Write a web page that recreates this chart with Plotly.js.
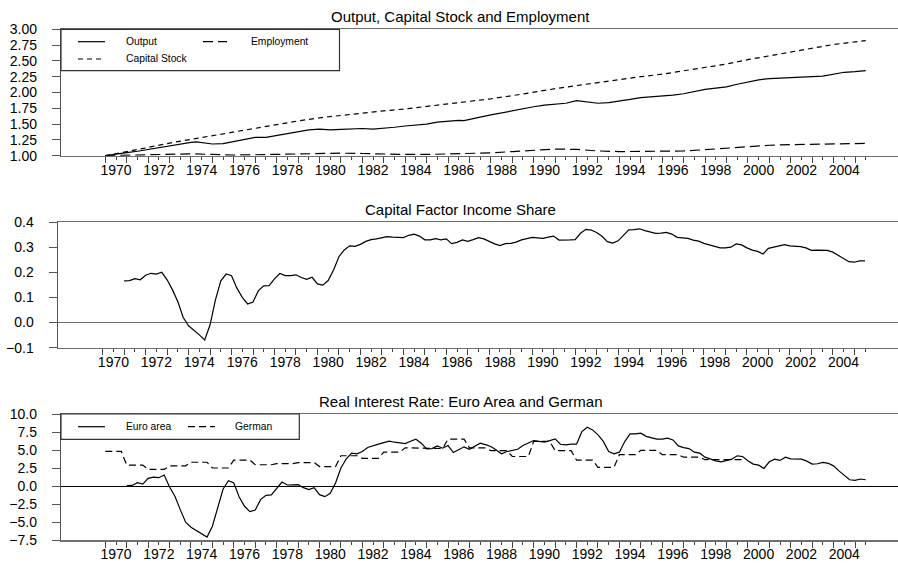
<!DOCTYPE html>
<html>
<head>
<meta charset="utf-8">
<script src="https://cdn.plot.ly/plotly-3.0.1.min.js"></script>
<style>html,body{margin:0;padding:0;background:#fff;}#chart{width:898px;height:566px;}</style>
</head>
<body>
<div id="chart"></div>
<script>
// ---------------- Data ----------------
// Panel 1: indices (1970Q1 = 1)
const outputYears = [1970,1970.5,1971,1971.5,1972,1972.5,1973,1973.5,1974,1974.25,1974.75,1975,1975.5,1976,1976.5,1977,1977.5,1978,1978.5,1979,1979.5,1980,1980.5,1981,1981.5,1982,1982.5,1983,1983.5,1984,1984.5,1985,1985.5,1986,1986.5,1986.75,1987,1987.5,1988,1988.5,1989,1989.5,1990,1990.5,1991,1991.5,1992,1992.5,1993,1993.5,1994,1994.5,1995,1995.5,1996,1996.5,1997,1997.5,1998,1998.5,1999,1999.5,2000,2000.5,2001,2001.5,2002,2002.5,2003,2003.5,2004,2004.5,2005,2005.5];
const outputIdx = [1.00,1.03,1.05,1.07,1.10,1.13,1.16,1.19,1.21,1.22,1.19,1.185,1.19,1.22,1.26,1.29,1.29,1.32,1.35,1.38,1.41,1.42,1.41,1.415,1.42,1.43,1.42,1.43,1.45,1.47,1.48,1.50,1.53,1.55,1.56,1.555,1.57,1.61,1.645,1.68,1.71,1.74,1.775,1.80,1.82,1.83,1.87,1.85,1.83,1.84,1.86,1.89,1.92,1.93,1.94,1.96,1.98,2.02,2.05,2.07,2.09,2.13,2.17,2.20,2.22,2.225,2.23,2.24,2.25,2.26,2.29,2.32,2.33,2.345];
const capitalYears = [1970,1971,1972,1973,1974,1975,1976,1977,1978,1979,1980,1981,1982,1983,1984,1985,1986,1987,1988,1989,1990,1991,1992,1993,1994,1995,1996,1997,1998,1999,2000,2001,2002,2003,2004,2005,2005.5];
const capitalIdx = [1.00,1.06,1.13,1.20,1.26,1.32,1.38,1.44,1.50,1.55,1.60,1.64,1.68,1.71,1.74,1.78,1.81,1.85,1.90,1.95,2.01,2.06,2.11,2.16,2.20,2.25,2.29,2.34,2.39,2.45,2.52,2.58,2.64,2.70,2.76,2.80,2.82];
const employmentYears = [1970,1971,1972,1973,1974,1975,1976,1977,1978,1979,1980,1981,1982,1983,1984,1985,1986,1987,1988,1989,1990,1991,1992,1993,1994,1995,1996,1997,1998,1999,2000,2001,2002,2003,2004,2005,2005.5];
const employmentIdx = [1.00,1.01,1.02,1.03,1.03,1.02,1.01,1.015,1.02,1.03,1.04,1.04,1.035,1.025,1.02,1.02,1.025,1.035,1.045,1.065,1.09,1.105,1.10,1.075,1.065,1.065,1.07,1.075,1.095,1.12,1.145,1.165,1.175,1.18,1.185,1.19,1.195];

// Panel 2: capital factor income share, quarterly from 1971Q1
const shareStart = 1971;
const incomeShare = [0.166,0.167,0.175,0.170,0.188,0.196,0.193,0.200,0.170,0.130,0.083,0.020,-0.013,-0.030,-0.049,-0.069,-0.009,0.090,0.166,0.193,0.186,0.137,0.100,0.074,0.082,0.127,0.146,0.147,0.174,0.195,0.187,0.187,0.190,0.179,0.172,0.180,0.154,0.149,0.167,0.209,0.262,0.289,0.305,0.303,0.311,0.323,0.330,0.333,0.338,0.342,0.340,0.339,0.338,0.347,0.352,0.344,0.329,0.329,0.334,0.329,0.333,0.314,0.319,0.329,0.323,0.330,0.338,0.333,0.322,0.313,0.306,0.314,0.315,0.320,0.329,0.333,0.339,0.337,0.335,0.340,0.344,0.328,0.327,0.329,0.330,0.355,0.371,0.368,0.358,0.343,0.322,0.316,0.325,0.348,0.369,0.370,0.373,0.366,0.360,0.355,0.356,0.359,0.352,0.339,0.337,0.335,0.328,0.324,0.315,0.308,0.302,0.297,0.297,0.300,0.313,0.309,0.297,0.288,0.283,0.273,0.295,0.300,0.302,0.310,0.305,0.304,0.302,0.297,0.287,0.288,0.289,0.287,0.280,0.268,0.256,0.242,0.240,0.245,0.245];

// Panel 3: real interest rates
const euroStart = 1971;
const euroRate = [0.04,0.08,0.46,0.27,1.06,1.24,1.15,1.52,-0.14,-1.43,-3.28,-5.03,-5.72,-6.18,-6.60,-7.10,-5.58,-2.82,-0.42,0.73,0.42,-1.52,-2.82,-3.55,-3.33,-1.89,-1.29,-1.24,-0.28,0.55,0.14,0.18,0.18,-0.23,-0.51,-0.23,-1.20,-1.48,-1.02,0.41,2.49,3.78,4.56,4.47,4.79,5.34,5.62,5.81,6.03,6.22,6.08,5.98,5.90,6.22,6.50,5.95,5.16,5.20,5.57,5.25,5.62,4.65,5.02,5.44,5.11,5.50,5.95,5.75,5.48,5.00,4.47,4.79,4.90,5.10,5.62,5.95,6.31,6.20,6.08,6.30,6.54,5.80,5.71,5.81,5.81,7.55,8.15,7.79,7.10,6.20,4.79,4.47,4.70,6.17,7.23,7.25,7.33,6.90,6.70,6.50,6.50,6.64,6.40,5.57,5.34,5.20,4.70,4.56,4.01,3.73,3.50,3.36,3.55,3.73,4.19,4.10,3.50,3.04,2.90,2.44,3.36,3.73,3.55,4.01,3.78,3.75,3.73,3.45,3.04,3.09,3.27,3.15,2.80,2.10,1.50,0.87,0.78,0.97,0.87];
const germanYears = [1970,1971,1972,1973,1974,1975,1976,1977,1978,1979,1980,1981,1982,1983,1984,1985,1986,1987,1988,1989,1990,1991,1992,1993,1994,1995,1996,1997,1998,1999];
const germanRate = [4.8,2.9,2.3,2.8,3.3,2.5,3.6,2.95,3.1,3.25,2.7,4.2,3.85,4.7,5.3,5.2,6.5,5.3,4.9,4.1,6.2,4.9,3.6,2.6,4.35,4.95,4.35,4.0,3.65,3.65];

// Axis ticks: tall ticks at year starts, short ticks at mid-year, labels centred on even years
const yearStarts = [];
for (let y = 1970; y <= 2005; y++) yearStarts.push(y);
const midYears = yearStarts.map(y => y + 0.5);
const yearLabels = yearStarts.map(y => (y % 2 === 0 && y <= 2004) ? String(y) : '');

const titles = ['Output, Capital Stock and Employment', 'Capital Factor Income Share', 'Real Interest Rate: Euro Area and German'];

// ---------------- Helpers ----------------
const W = 898, H = 566;
const px = x => x / W;
const py = y => 1 - y / H;
function quarterly(start, n) { const a = []; for (let i = 0; i < n; i++) a.push(start + i * 0.25); return a; }
// annual German values held constant over the four quarters of each year
const gx = [], gy = [];
germanYears.forEach((yr, i) => { gx.push(yr, yr + 0.75); gy.push(germanRate[i], germanRate[i]); });

const FONT = 'Liberation Sans, Arial, Helvetica, sans-serif';
const lineStyle = {color: '#000', width: 1.2};

const traces = [
  {x: outputYears, y: outputIdx, xaxis: 'x', yaxis: 'y', mode: 'lines', name: 'Output', line: {...lineStyle}},
  {x: capitalYears, y: capitalIdx, xaxis: 'x', yaxis: 'y', mode: 'lines', name: 'Capital Stock', line: {...lineStyle, dash: '5px,4px'}},
  {x: employmentYears, y: employmentIdx, xaxis: 'x', yaxis: 'y', mode: 'lines', name: 'Employment', line: {...lineStyle, dash: '10px,5px'}},
  {x: quarterly(shareStart, incomeShare.length), y: incomeShare, xaxis: 'x2', yaxis: 'y2', mode: 'lines', name: 'Capital Factor Income Share', line: {...lineStyle}},
  {x: quarterly(euroStart, euroRate.length), y: euroRate, xaxis: 'x3', yaxis: 'y3', mode: 'lines', name: 'Euro area', line: {...lineStyle}},
  {x: gx, y: gy, xaxis: 'x3', yaxis: 'y3', mode: 'lines', name: 'German', line: {...lineStyle, dash: '7px,4px'}}
];

function xAxis(left, range, anchor) {
  return {
    domain: [px(left), 1], range: range, anchor: anchor,
    showline: true, mirror: true, linecolor: '#6e6e6e', linewidth: 1.5,
    ticks: 'outside', ticklen: 3, tickwidth: 1, tickcolor: '#444',
    tickmode: 'array', tickvals: midYears, ticktext: yearLabels,
    ticklabelstandoff: -2,
    tickfont: {family: FONT, size: 14, color: '#000'},
    minor: {tickmode: 'array', tickvals: yearStarts, ticks: 'outside', ticklen: 6, tickwidth: 1, tickcolor: '#444', showgrid: false},
    showgrid: false, zeroline: false, fixedrange: true
  };
}
function yAxis(top, bottom, range, dtick, fmt, anchor, zl) {
  return {
    domain: [py(bottom), py(top)], range: range, anchor: anchor,
    showline: true, linecolor: '#555', linewidth: 1.2,
    ticks: 'outside', ticklen: 8, tickwidth: 1, tickcolor: '#555',
    tickmode: 'linear', tick0: range[0], dtick: dtick, tickformat: fmt,
    ticklabelstandoff: 12,
    tickfont: {family: FONT, size: 14, color: '#000'},
    showgrid: false, fixedrange: true,
    zeroline: !!zl, zerolinecolor: zl ? zl.color : '#000', zerolinewidth: zl ? zl.width : 1
  };
}

const r13 = [1970 - 44.3 / 21.42, 1970 + 792.7 / 21.42];
const r2 = [1970 - 45 / 21.474, 1970 + 795.3 / 21.474];

const annotations = [
  {text: titles[0], x: px(460), y: py(17)},
  {text: titles[1], x: px(460), y: py(209.5)},
  {text: titles[2], x: px(460), y: py(401.5)}
].map(a => ({...a, xref: 'paper', yref: 'paper', xanchor: 'center', yanchor: 'middle', showarrow: false, font: {family: FONT, size: 15, color: '#000'}}));

// legend entries (text)
const legText = [
  {text: 'Output', x: 124, y: 41.7},
  {text: 'Employment', x: 249, y: 41.7},
  {text: 'Capital Stock', x: 124, y: 59},
  {text: 'Euro area', x: 124, y: 426.7},
  {text: 'German', x: 232.7, y: 426.7}
];
legText.forEach(t => annotations.push({text: t.text, x: px(t.x), y: py(t.y), xref: 'paper', yref: 'paper', xanchor: 'left', yanchor: 'middle', showarrow: false, font: {family: FONT, size: 10.3, color: '#000'}}));

const shapes = [];
function box(x0, y0, x1, y1) { shapes.push({type: 'rect', xref: 'paper', yref: 'paper', x0: px(x0), x1: px(x1), y0: py(y1), y1: py(y0), line: {color: '#333', width: 1.2}, fillcolor: 'rgba(255,255,255,1)', layer: 'above'}); }
function sample(x0, x1, y, dash) { shapes.push({type: 'line', xref: 'paper', yref: 'paper', x0: px(x0), x1: px(x1), y0: py(y), y1: py(y), line: {color: '#000', width: 1.2, dash: dash}, layer: 'above'}); }
box(61, 29.3, 339.5, 70.7);
sample(78, 105, 41.7, 'solid');
sample(203, 227, 41.7, '10px,5px');
sample(78, 105, 59, '5px,4px');
box(61, 414, 299.3, 439.3);
sample(78, 105, 426.7, 'solid');
sample(188, 215, 426.7, '7px,4px');

const layout = {
  width: W, height: H, margin: {l: 0, r: 0, t: 0, b: 0},
  paper_bgcolor: '#fff', plot_bgcolor: '#fff', showlegend: false,
  font: {family: FONT, color: '#000'},
  xaxis: xAxis(61, r13, 'y'),
  yaxis: yAxis(29.3, 155.7, [1, 3], 0.25, '.2f', 'x'),
  xaxis2: xAxis(57.7, r2, 'y2'),
  yaxis2: yAxis(222, 347.7, [-0.1, 0.4], 0.1, '.1f', 'x2', {color: '#6e6e6e', width: 1.5}),
  xaxis3: xAxis(61, r13, 'y3'),
  yaxis3: yAxis(414, 540, [-7.5, 10], 2.5, '.1f', 'x3', {color: '#000', width: 1}),
  annotations: annotations, shapes: shapes
};

Plotly.newPlot('chart', traces, layout, {displayModeBar: false, staticPlot: true});
</script>
</body>
</html>
